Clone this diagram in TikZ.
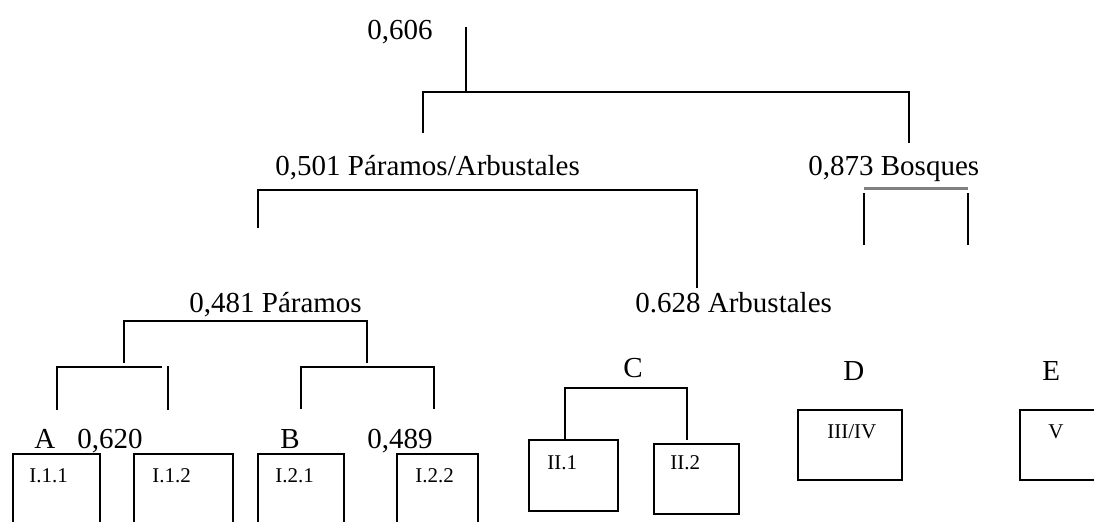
\documentclass[tikz,border=0pt]{standalone}
\usepackage{fontspec}
\setmainfont{Liberation Serif}
\usetikzlibrary{positioning}
\tikzset{%
	lbl/.style   = {anchor=base west, inner sep=0pt, font=\fontsize{14.5}{16}\selectfont}, % Group label
	clase/.style = {draw, line width=1pt, rectangle, anchor=north west, inner sep=0pt}, % Class box
	cod/.style   = {inner sep=0pt, font=\fontsize{10.5}{12}\selectfont}, % Class code
	rama/.style  = {line width=0.8pt}, % Dendrogram branch
}
\begin{document}
\begin{tikzpicture}[x=0.5pt,y=-0.5pt]
	\useasboundingbox (0,0) rectangle (1094,521);
	\clip (0,0) rectangle (1094,521);

	% labels
	\node [lbl] (v606) at (367,39) {0,606};
	\node [lbl] (pararb) at (275,175) {0,501 Páramos/Arbustales};
	\node [lbl] (bosq) at (808,175) {0,873 Bosques};
	\node [lbl] (param) at (189,312) {0,481 Páramos};
	\node [lbl] (arbus) at (635,312) {0.628 Arbustales};
	\node [lbl] (gA) at (34,448) {A};
	\node [lbl] (v620) at (77,448) {0,620};
	\node [lbl] (gB) at (280,448) {B};
	\node [lbl] (v489) at (367,448) {0,489};
	\node [lbl] (gC) at (623,377) {C};
	\node [lbl] (gD) at (843,380) {D};
	\node [lbl] (gE) at (1042,380) {E};

	% boxes
	\node [clase, minimum width=43.5pt, minimum height=45pt] (b111) at (12,453) {};
	\node [clase, minimum width=49.5pt, minimum height=45pt] (b112) at (133,453) {};
	\node [clase, minimum width=43pt, minimum height=45pt] (b121) at (257,453) {};
	\node [clase, minimum width=40.5pt, minimum height=45pt] (b122) at (396,453) {};
	\node [clase, minimum width=44.5pt, minimum height=35.5pt] (b21) at (528,439) {};
	\node [clase, minimum width=42.5pt, minimum height=35pt] (b22) at (653,443) {};
	\node [clase, minimum width=52pt, minimum height=35pt] (b34) at (797,409) {};
	\node [clase, minimum width=50pt, minimum height=35pt] (b5) at (1019,409) {};

	\node [cod] (t111) [below right=7.5pt and 8.5pt of b111.north west] {I.1.1};
	\node [cod] (t112) [below right=7.5pt and 9.5pt of b112.north west] {I.1.2};
	\node [cod] (t121) [below right=7.5pt and 9pt of b121.north west] {I.2.1};
	\node [cod] (t122) [below right=7.5pt and 9.5pt of b122.north west] {I.2.2};
	\node [cod] (t21) [below right=8pt and 9.5pt of b21.north west] {II.1};
	\node [cod] (t22) [below right=6pt and 8.5pt of b22.north west] {II.2};
	\node [cod] (t34) [below right=7.5pt and 15pt of b34.north west] {III/IV};
	\node [cod] (t5) [below right=7.5pt and 14.5pt of b5.north west] {V};

	% branches
	\coordinate (r0) at (466,27);
	\coordinate (j0) at (466,92);
	\coordinate (pa) at (423,133);
	\coordinate (bo) at (909,143);
	\coordinate (j1) at (478,190);
	\coordinate (pa1) at (258,228);
	\coordinate (ar1) at (697,288);
	\coordinate (j2) at (245,321);
	\coordinate (pm1) at (124,363);
	\coordinate (pm2) at (367,363);
	\coordinate (a1) at (57,410);
	\coordinate (a2) at (168,410);
	\coordinate (b1) at (301,409);
	\coordinate (b2) at (434,409);
	\coordinate (jc) at (626,388);
	\coordinate (bq1) at (864,245);
	\coordinate (bq2) at (968,245);

	\draw[rama] (r0) -- (j0);
	\draw[rama] (pa) |- (j0) -| (bo);
	\draw[rama] (pa1) |- (j1) -| (ar1);
	\draw[rama] (pm1) |- (j2) -| (pm2);
	\draw[rama] (a1) -- (57,367) -- (162,367);
	\draw[rama] (a2) -- (168,366);
	\draw[rama] (b1) |- (b2 |- 0,367) -- (b2);
	\draw[rama] (565,439) |- (jc) -| (687,440);
	\draw[line width=1.5pt, gray] (864,188) -- (968,188);
	\draw[rama] (bq1) -- (864,193);
	\draw[rama] (bq2) -- (968,193);
\end{tikzpicture}
\end{document}
